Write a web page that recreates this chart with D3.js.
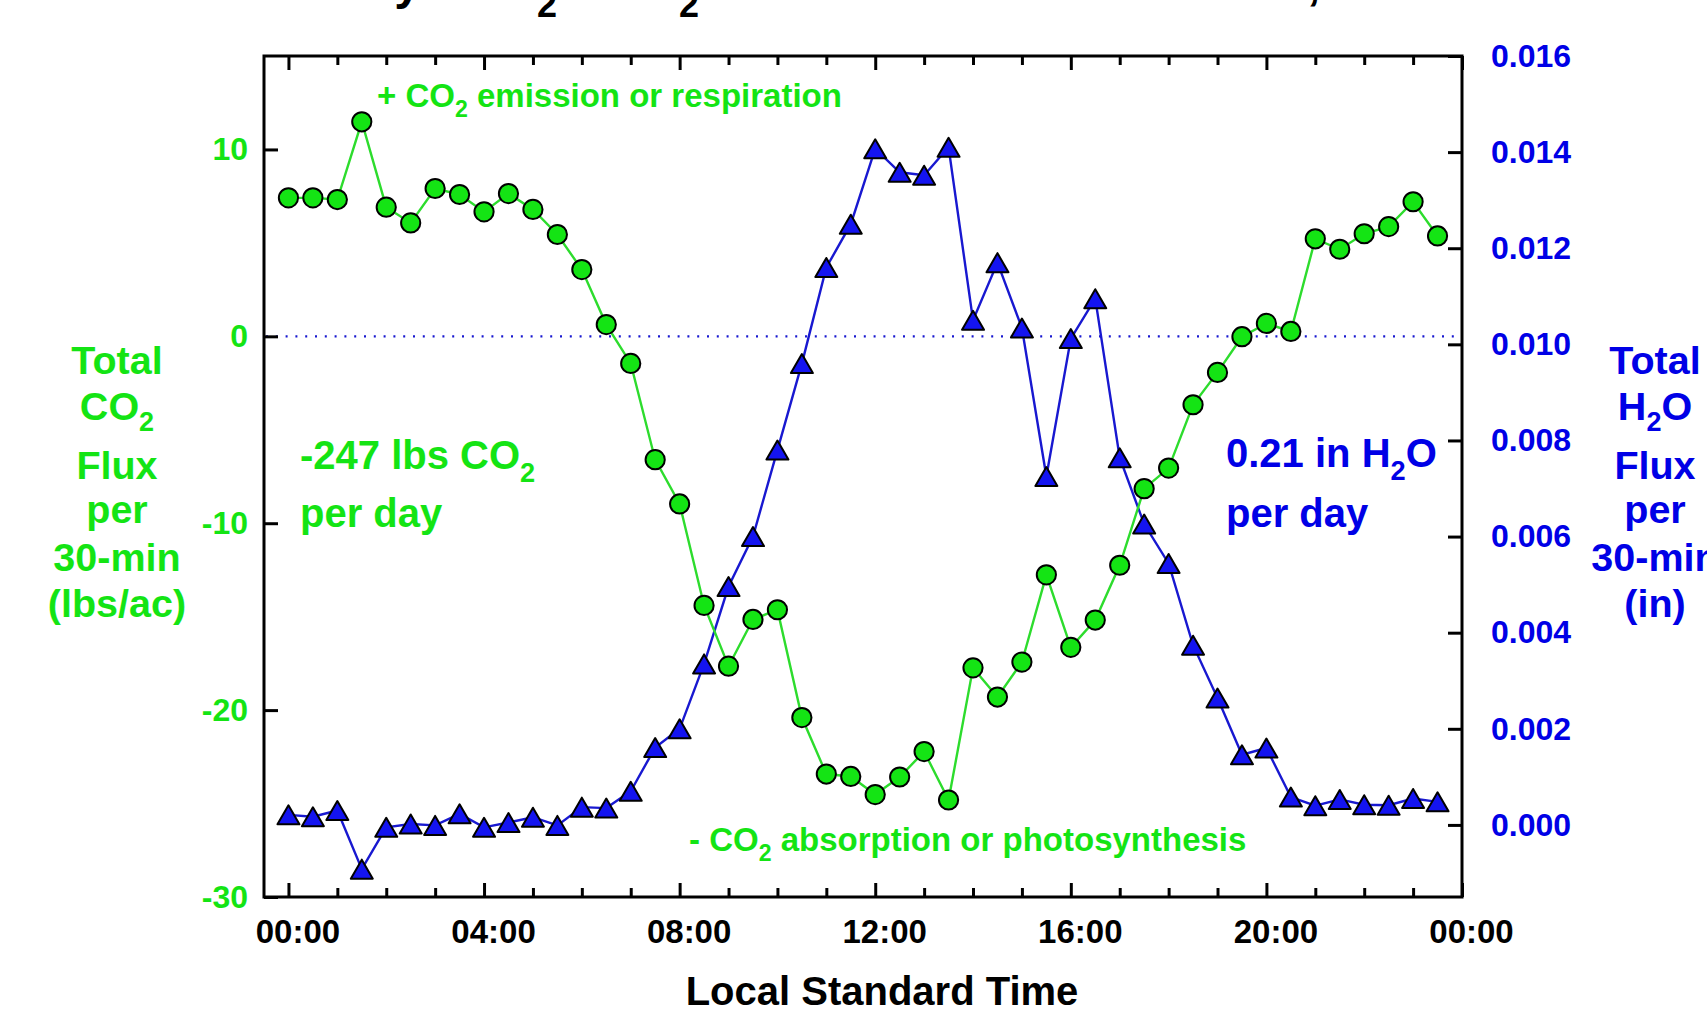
<!DOCTYPE html>
<html>
<head>
<meta charset="utf-8">
<script src="https://cdn.jsdelivr.net/npm/d3@7"></script>
<style>
  html, body { margin: 0; padding: 0; background: #ffffff; overflow: hidden; }
  svg { display: block; }
  text { font-family: "Liberation Sans", Arial, sans-serif; font-weight: bold; }
</style>
</head>
<body>
<svg id="chart" width="1707" height="1009"></svg>
<script>
// ---------------- data ----------------
const times = ["00:00","00:30","01:00","01:30","02:00","02:30","03:00","03:30","04:00","04:30",
  "05:00","05:30","06:00","06:30","07:00","07:30","08:00","08:30","09:00","09:30",
  "10:00","10:30","11:00","11:30","12:00","12:30","13:00","13:30","14:00","14:30",
  "15:00","15:30","16:00","16:30","17:00","17:30","18:00","18:30","19:00","19:30",
  "20:00","20:30","21:00","21:30","22:00","22:30","23:00","23:30"];

// Total CO2 flux per 30-min (lbs/ac)
const co2Flux = [7.41, 7.41, 7.32, 11.48, 6.91, 6.07, 7.91, 7.59, 6.66, 7.64,
  6.79, 5.45, 3.57, 0.63, -1.45, -6.6, -8.97, -14.4, -17.65, -15.15,
  -14.63, -20.4, -23.42, -23.55, -24.52, -23.58, -22.22, -24.81, -17.74, -19.3,
  -17.43, -12.76, -16.64, -15.18, -12.25, -8.15, -7.05, -3.66, -1.93, -0.02,
  0.69, 0.26, 5.22, 4.66, 5.49, 5.87, 7.2, 5.37];

// Total H2O flux per 30-min (in)
const h2oFlux = [0.00021, 0.00017, 0.0003, -0.00092, -0.00005, 0.00002, -0.00001, 0.00023, -0.00005, 0.00005,
  0.00016, -0.00001, 0.00037, 0.00035, 0.0007, 0.00161, 0.002, 0.00335, 0.00496, 0.006,
  0.0078, 0.0096, 0.0116, 0.0125, 0.01407, 0.01358, 0.01352, 0.0141, 0.0105, 0.0117,
  0.01034, 0.00725, 0.01012, 0.01095, 0.00764, 0.00626, 0.00544, 0.00374, 0.00264, 0.00146,
  0.0016, 0.00058, 0.0004, 0.00053, 0.00042, 0.00041, 0.00055, 0.00048];

const co2Ticks = [-30, -20, -10, 0, 10];
const h2oTicks = [0, 0.002, 0.004, 0.006, 0.008, 0.010, 0.012, 0.014, 0.016];
const hourTicksMajor = [0, 4, 8, 12, 16, 20, 24];
const hourTickLabels = ["00:00", "04:00", "08:00", "12:00", "16:00", "20:00", "00:00"];
const hourTicksMinor = [1,2,3,5,6,7,9,10,11,13,14,15,17,18,19,21,22,23];

const leftTitle = ["Total", ["CO", "2"], "Flux", "per", "30-min", "(lbs/ac)"];
const rightTitle = ["Total", ["H", "2", "O"], "Flux", "per", "30-min", "(in)"];

// ---------------- styles ----------------
const GREEN = "#14e414";
const GREEN_LINE = "#2ddc2d";
const BLUE = "#0000e6";
const BLUE_FILL = "#1414f0";
const BLUE_LINE = "#1818d0";
const FONT = "Liberation Sans, Arial, sans-serif";

const svg = d3.select("#chart");
const L = 264, R = 1462, T = 56, B = 897;

const hourOf = t => { const [h, m] = t.split(":").map(Number); return h + m / 60; };

const x = d3.scaleLinear().domain([-0.5, 24]).range([L, R]);
const yL = d3.scaleLinear().domain([-30, 15]).range([B, T]);
const yR = d3.scaleLinear().domain([-0.0015, 0.016]).range([B, T]);

// ---------------- title (clipped at top of the picture) ----------------
const tg = svg.append("g").attr("fill", "#000");
tg.append("text").attr("x", 421).attr("y", -1).attr("text-anchor", "end").attr("font-size", 48).text("Daily");
tg.append("text").attr("x", 535).attr("y", -1).attr("text-anchor", "end").attr("font-size", 48).text("CO");
tg.append("text").attr("x", 537).attr("y", 17).attr("font-size", 36).text("2");
tg.append("text").attr("x", 677).attr("y", -1).attr("text-anchor", "end").attr("font-size", 48).text("& H");
tg.append("text").attr("x", 679).attr("y", 17).attr("font-size", 36).text("2");
tg.append("text").attr("x", 701).attr("y", -1).attr("font-size", 48).text("O Fluxes");
tg.append("text").attr("x", 1307).attr("y", -1).attr("font-size", 48).text(", 2015");

// ---------------- zero line ----------------
svg.append("line")
  .attr("x1", L + 2).attr("x2", R - 2)
  .attr("y1", yL(0)).attr("y2", yL(0))
  .attr("stroke", BLUE_LINE).attr("stroke-width", 2.2)
  .attr("stroke-dasharray", "2,7.8");

// ---------------- axes ----------------
function styleAxis(g) {
  g.select(".domain").remove();
  g.selectAll(".tick line").attr("stroke", "#000").attr("stroke-width", 3);
}

svg.append("g").attr("transform", `translate(${L},0)`)
  .call(d3.axisLeft(yL).tickValues(co2Ticks).tickSize(-14).tickPadding(16).tickFormat(d => String(d)))
  .call(styleAxis)
  .call(g => g.selectAll("text").attr("fill", GREEN).attr("font-size", 32)
    .attr("font-family", FONT).attr("font-weight", "bold"));

svg.append("g").attr("transform", `translate(${R},0)`)
  .call(d3.axisRight(yR).tickValues(h2oTicks).tickSize(-14).tickPadding(29).tickFormat(d3.format(".3f")))
  .call(styleAxis)
  .call(g => g.selectAll("text").attr("fill", BLUE).attr("font-size", 32)
    .attr("font-family", FONT).attr("font-weight", "bold"));

// bottom major with labels
svg.append("g").attr("transform", `translate(0,${B})`)
  .call(d3.axisBottom(x).tickValues(hourTicksMajor).tickSize(-14).tickPadding(23)
    .tickFormat((d, i) => hourTickLabels[i]))
  .call(styleAxis)
  .call(g => g.selectAll("text").attr("fill", "#000").attr("font-size", 33).attr("dx", 9)
    .attr("font-family", FONT).attr("font-weight", "bold"));
svg.append("g").attr("transform", `translate(0,${B})`)
  .call(d3.axisBottom(x).tickValues(hourTicksMinor).tickSize(-9).tickFormat(""))
  .call(styleAxis);
// top ticks
svg.append("g").attr("transform", `translate(0,${T})`)
  .call(d3.axisTop(x).tickValues(hourTicksMajor).tickSize(-14).tickFormat(""))
  .call(styleAxis);
svg.append("g").attr("transform", `translate(0,${T})`)
  .call(d3.axisTop(x).tickValues(hourTicksMinor).tickSize(-9).tickFormat(""))
  .call(styleAxis);

// frame
svg.append("rect").attr("x", L).attr("y", T).attr("width", R - L).attr("height", B - T)
  .attr("fill", "none").attr("stroke", "#000").attr("stroke-width", 3);

// ---------------- series ----------------
const h2oData = times.map((t, i) => ({ h: hourOf(t), v: h2oFlux[i] }));
const co2Data = times.map((t, i) => ({ h: hourOf(t), v: co2Flux[i] }));

svg.append("path").datum(h2oData)
  .attr("d", d3.line().x(d => x(d.h)).y(d => yR(d.v)))
  .attr("fill", "none").attr("stroke", BLUE_LINE).attr("stroke-width", 2.4);

svg.append("path").datum(co2Data)
  .attr("d", d3.line().x(d => x(d.h)).y(d => yL(d.v)))
  .attr("fill", "none").attr("stroke", GREEN_LINE).attr("stroke-width", 2.4);

const ts = 22, th = 19;
svg.append("g").selectAll("path").data(h2oData).join("path")
  .attr("transform", d => `translate(${x(d.h)},${yR(d.v)})`)
  .attr("d", `M0,${-th / 2}L${ts / 2},${th / 2}L${-ts / 2},${th / 2}Z`)
  .attr("fill", BLUE_FILL).attr("stroke", "#000").attr("stroke-width", 2).attr("stroke-linejoin", "round");

svg.append("g").selectAll("circle").data(co2Data).join("circle")
  .attr("cx", d => x(d.h)).attr("cy", d => yL(d.v)).attr("r", 9.6)
  .attr("fill", GREEN).attr("stroke", "#000").attr("stroke-width", 2);

// ---------------- annotations ----------------
function subText(g, xPos, yPos, size, color, parts) {
  const t = g.append("text").attr("x", xPos).attr("y", yPos).attr("font-size", size).attr("fill", color);
  parts.forEach(p => {
    if (p.sub) t.append("tspan").attr("font-size", size * p.scale).attr("dy", p.shift).text(p.text);
    else t.append("tspan").attr("dy", p.back || 0).text(p.text);
  });
  return t;
}
const ann = svg.append("g");
subText(ann, 377, 107, 33, GREEN, [
  { text: "+ CO" }, { text: "2", sub: true, scale: 0.7, shift: 10 }, { text: " emission or respiration", back: -10 }]);
subText(ann, 689, 851, 33, GREEN, [
  { text: "- CO" }, { text: "2", sub: true, scale: 0.7, shift: 10 }, { text: " absorption or photosynthesis", back: -10 }]);
subText(ann, 300, 469, 40, GREEN, [
  { text: "-247 lbs CO" }, { text: "2", sub: true, scale: 0.68, shift: 13 }]);
ann.append("text").attr("x", 300).attr("y", 527).attr("font-size", 40).attr("fill", GREEN).text("per day");
subText(ann, 1226, 467, 40, BLUE, [
  { text: "0.21 in H" }, { text: "2", sub: true, scale: 0.68, shift: 13 }, { text: "O", back: -13 }]);
ann.append("text").attr("x", 1226).attr("y", 527).attr("font-size", 40).attr("fill", BLUE).text("per day");

// ---------------- axis titles ----------------
const titleBaselines = [374, 420, 479, 523, 571, 617];
function axisTitle(cx, lines, color) {
  const g = svg.append("g");
  lines.forEach((ln, i) => {
    const t = g.append("text").attr("x", cx).attr("y", titleBaselines[i]).attr("text-anchor", "middle")
      .attr("font-size", 39.5).attr("fill", color);
    if (typeof ln === "string") { t.text(ln); return; }
    t.append("tspan").text(ln[0]);
    t.append("tspan").attr("font-size", 27).attr("dy", 11).text(ln[1]);
    if (ln[2]) t.append("tspan").attr("dy", -11).text(ln[2]);
  });
}
axisTitle(117, leftTitle, GREEN);
axisTitle(1655, rightTitle, BLUE);

svg.append("text").attr("x", 882).attr("y", 1005).attr("text-anchor", "middle")
  .attr("font-size", 40).attr("fill", "#000").text("Local Standard Time");
</script>
</body>
</html>
